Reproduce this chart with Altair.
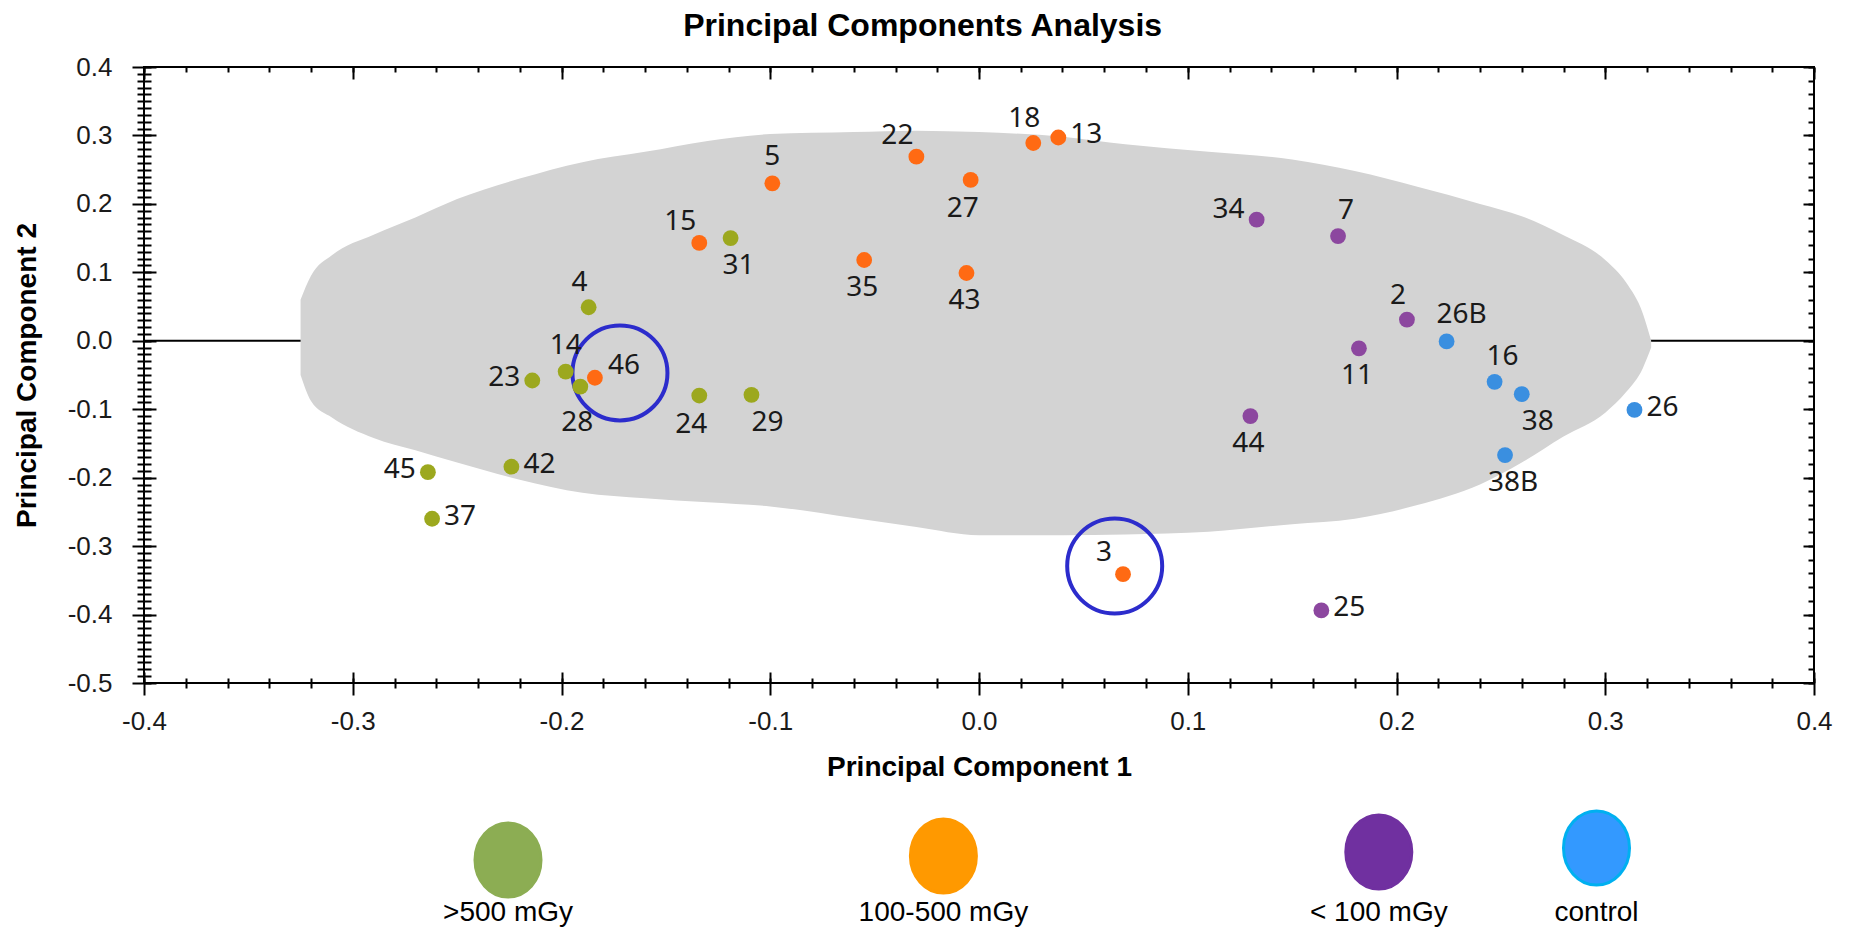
import altair as alt
import pandas as pd

# ---------------- data ----------------
sample_ids = ["31", "4", "14", "28", "23", "24", "29", "42", "45", "37",
              "5", "22", "18", "13", "27", "15", "35", "43", "46", "3",
              "34", "7", "2", "11", "44", "25",
              "26B", "16", "38", "26", "38B"]
pc1 = [-0.119, -0.187, -0.198, -0.191, -0.214, -0.134, -0.109, -0.224, -0.264, -0.262,
       -0.099, -0.030, 0.026, 0.038, -0.004, -0.134, -0.055, -0.006, -0.184, 0.069,
       0.133, 0.172, 0.205, 0.182, 0.130, 0.164,
       0.224, 0.247, 0.260, 0.314, 0.252]
pc2 = [0.150, 0.049, -0.045, -0.067, -0.058, -0.080, -0.079, -0.184, -0.192, -0.260,
       0.230, 0.269, 0.289, 0.297, 0.235, 0.143, 0.118, 0.099, -0.054, -0.341,
       0.177, 0.153, 0.031, -0.011, -0.110, -0.394,
       -0.001, -0.060, -0.078, -0.101, -0.167]
dose_group = [">500 mGy"] * 10 + ["100-500 mGy"] * 10 + ["< 100 mGy"] * 6 + ["control"] * 5
label_side = ["SSE", "NNW", "N", "S2", "W", "SSW", "SE", "E", "W", "E",
              "N", "NW", "NNW", "E", "SSW", "NW", "S", "S", "ENE", "NW",
              "WNW", "NNE", "NNW", "S", "S", "E",
              "NE", "NNE", "SE", "E", "SSE"]

groups = [">500 mGy", "100-500 mGy", "< 100 mGy", "control"]
point_colors = ["#9CA81E", "#FF6A13", "#8C479F", "#3A8FE0"]

# grey cloud outline (upper and lower edge)
blob_x = [-0.325, -0.32, -0.31, -0.29, -0.27, -0.25, -0.22, -0.19, -0.16, -0.13,
          -0.10, -0.06, -0.03, 0.0, 0.04, 0.07, 0.11, 0.15, 0.18, 0.21,
          0.24, 0.26, 0.28, 0.30, 0.31, 0.318, 0.322]
blob_top = [0.06, 0.095, 0.125, 0.155, 0.18, 0.207, 0.237, 0.261, 0.276, 0.292,
            0.302, 0.305, 0.307, 0.305, 0.298, 0.287, 0.276, 0.265, 0.248, 0.225,
            0.200, 0.182, 0.154, 0.118, 0.085, 0.04, 0.0]
blob_bottom = [-0.05, -0.088, -0.112, -0.142, -0.160, -0.178, -0.203, -0.222, -0.230, -0.236,
               -0.242, -0.259, -0.272, -0.284, -0.284, -0.283, -0.279, -0.268, -0.260, -0.240,
               -0.210, -0.178, -0.140, -0.105, -0.075, -0.04, -0.01]

# highlight rings
ring_x = [-0.172, 0.065]
ring_y = [-0.047, -0.329]

# axis tick values
x_major = [-0.4, -0.3, -0.2, -0.1, 0.0, 0.1, 0.2, 0.3, 0.4]
y_major = [-0.5, -0.4, -0.3, -0.2, -0.1, 0.0, 0.1, 0.2, 0.3, 0.4]
x_minor = [round(-0.4 + 0.02 * i, 2) for i in range(41)]
y_minor_left = [round(-0.5 + 0.01 * i, 2) for i in range(91)]
y_minor_right = [round(-0.5 + 0.02 * i, 2) for i in range(46)]

# legend
legend_labels = [">500 mGy", "100-500 mGy", "< 100 mGy", "control"]
legend_fill = ["#8CAD53", "#FF9900", "#7030A0", "#3399FF"]
legend_stroke = ["#8CAD53", "#FF9900", "#7030A0", "#00B0F0"]

# ---------------- frames ----------------
pts = pd.DataFrame({"id": sample_ids, "x": pc1, "y": pc2,
                    "group": dose_group, "side": label_side})
blob = pd.DataFrame({"x": blob_x, "top": blob_top, "bottom": blob_bottom})
rings = pd.DataFrame({"x": ring_x, "y": ring_y})
zero = pd.DataFrame({"y": [0.0]})

W, H = 1670, 616
xs = alt.Scale(domain=[-0.4, 0.4], nice=False, zero=False)
ys = alt.Scale(domain=[-0.5, 0.4], nice=False, zero=False)

MAJ = "abs(datum.value*10 - round(datum.value*10)) < 0.000001"
LBL = "(" + MAJ + ") ? ((datum.value < -0.00001 ? '-' : '') + format(abs(datum.value), '.1f')) : ''"
TICK_FONT = "Liberation Sans"

common = dict(tickColor="black", tickWidth=2, domain=False, grid=False)

ax_out = alt.Axis(orient="bottom", values=x_minor,
                  tickSize={"condition": {"test": MAJ, "value": 12}, "value": 5},
                  labelExpr=LBL, labelFont=TICK_FONT, labelFontSize=26, labelColor="#1a1a1a",
                  labelPadding=13, labelOverlap=False, labelFlush=False,
                  title="Principal Component 1", titleFont="Liberation Sans", titleFontSize=28,
                  titleFontWeight="bold", titleColor="black", titlePadding=19, **common)
ax_in_maj = alt.Axis(orient="bottom", values=x_major, offset=-11, tickSize=11,
                     labels=False, title=None, **common)
ax_in_min = alt.Axis(orient="bottom", values=x_minor, offset=-5, tickSize=5,
                     labels=False, title=None, **common)
ax_top_maj = alt.Axis(orient="top", values=x_major, offset=-12, tickSize=12,
                      labels=False, title=None, **common)
ax_top_min = alt.Axis(orient="top", values=x_minor, offset=-5, tickSize=5,
                      labels=False, title=None, **common)

ay_out = alt.Axis(orient="left", values=y_minor_left,
                  tickSize={"condition": {"test": MAJ, "value": 12}, "value": 7},
                  labelExpr=LBL, labelFont=TICK_FONT, labelFontSize=26, labelColor="#1a1a1a",
                  labelPadding=20, labelOverlap=False, labelFlush=False,
                  title="Principal Component 2", titleFont="Liberation Sans", titleFontSize=28,
                  titleFontWeight="bold", titleColor="black", titlePadding=26, **common)
ay_in_maj = alt.Axis(orient="left", values=y_major, offset=-12, tickSize=12,
                     labels=False, title=None, **common)
ay_in_min = alt.Axis(orient="left", values=y_minor_left, offset=-7, tickSize=7,
                     labels=False, title=None, **common)
ay_r_maj = alt.Axis(orient="right", values=y_major, offset=-11, tickSize=11,
                    labels=False, title=None, **common)
ay_r_min = alt.Axis(orient="right", values=y_minor_right, offset=-6, tickSize=6,
                    labels=False, title=None, **common)

x_axes = [ax_out, ax_in_maj, ax_in_min, ax_top_maj, ax_top_min]
y_axes = [ay_out, ay_in_maj, ay_in_min, ay_r_maj, ay_r_min]

zero_rule = alt.Chart(zero).mark_rule(color="black", strokeWidth=2).encode(
    y=alt.Y("y:Q", scale=ys, axis=None))

cloud = alt.Chart(blob).mark_area(color="#D3D3D3", opacity=1, interpolate="monotone").encode(
    x=alt.X("x:Q", scale=xs, axis=x_axes[0]),
    y=alt.Y("top:Q", scale=ys, axis=y_axes[0]),
    y2="bottom:Q")

ring_layer = alt.Chart(rings).mark_point(shape="circle", filled=False, size=9025,
                                         stroke="#2C2CCC", strokeWidth=4, opacity=1).encode(
    x=alt.X("x:Q", scale=xs, axis=x_axes[1]),
    y=alt.Y("y:Q", scale=ys, axis=y_axes[1]))

dots = alt.Chart(pts).mark_circle(size=250, opacity=1).encode(
    x=alt.X("x:Q", scale=xs, axis=x_axes[2]),
    y=alt.Y("y:Q", scale=ys, axis=y_axes[2]),
    color=alt.Color("group:N", scale=alt.Scale(domain=groups, range=point_colors), legend=None))

SIDE = {
    "N": dict(dx=0, dy=-26, align="center"),
    "NNW": dict(dx=-9, dy=-24, align="center"),
    "NNE": dict(dx=8, dy=-25, align="center"),
    "NE": dict(dx=15, dy=-26, align="center"),
    "NW": dict(dx=-19, dy=-21, align="center"),
    "S": dict(dx=-2, dy=28, align="center"),
    "S2": dict(dx=-3, dy=36, align="center"),
    "SSW": dict(dx=-8, dy=29, align="center"),
    "SSE": dict(dx=8, dy=28, align="center"),
    "SE": dict(dx=16, dy=28, align="center"),
    "E": dict(dx=12, dy=-2, align="left"),
    "ENE": dict(dx=13, dy=-12, align="left"),
    "W": dict(dx=-12, dy=-2, align="right"),
    "WNW": dict(dx=-12, dy=-10, align="right"),
}

text_layers = []
for i, (code, st) in enumerate(SIDE.items()):
    k = 3 + i
    xa = x_axes[k] if k < len(x_axes) else None
    ya = y_axes[k] if k < len(y_axes) else None
    t = alt.Chart(pts).transform_filter(alt.datum.side == code).mark_text(
        font="Noto Sans", fontSize=28, color="#1a1a1a", baseline="middle", **st).encode(
        x=alt.X("x:Q", scale=xs, axis=xa),
        y=alt.Y("y:Q", scale=ys, axis=ya),
        text="id:N")
    text_layers.append(t)

main = alt.layer(zero_rule, cloud, ring_layer, dots, *text_layers).resolve_axis(
    x="independent", y="independent").properties(
    width=W, height=H,
    title=alt.Title("Principal Components Analysis", font="Liberation Sans", fontSize=32,
                    fontWeight="bold", color="black", anchor="middle", baseline="bottom",
                    frame="bounds", offset=-21),
    view=alt.ViewBackground(stroke="black", strokeWidth=2))

# ---------------- legend strip ----------------
leg = pd.DataFrame({"g": legend_labels})
slot_domain = [legend_labels[0], " ", legend_labels[1], "  ", legend_labels[2], legend_labels[3]]
lx = alt.Scale(type="point", domain=slot_domain, range=[364, 1452.5], padding=0)
ly = alt.Scale(type="point", domain=legend_labels, range=[49, 37], padding=0)
ELLIPSE = ("M -0.892 0 C -0.892 -0.552 -0.493 -1 0 -1 C 0.493 -1 0.892 -0.552 0.892 0 "
           "C 0.892 0.552 0.493 1 0 1 C -0.493 1 -0.892 0.552 -0.892 0 Z")

leg_sym = alt.Chart(leg).mark_point(shape=ELLIPSE, filled=True, size=5476, strokeWidth=3,
                                    opacity=1).encode(
    x=alt.X("g:N", scale=lx, axis=None, sort=None),
    y=alt.Y("g:N", scale=ly, axis=None, sort=None),
    fill=alt.Fill("g:N", scale=alt.Scale(domain=legend_labels, range=legend_fill), legend=None),
    stroke=alt.Stroke("g:N", scale=alt.Scale(domain=legend_labels, range=legend_stroke), legend=None))
leg_txt = alt.Chart(leg).mark_text(font="Liberation Sans", fontSize=28, color="black",
                                   baseline="middle", align="center", dy=62).encode(
    x=alt.X("g:N", scale=lx, axis=None, sort=None),
    text="g:N")
legend = alt.layer(leg_sym, leg_txt).properties(
    width=W, height=80, view=alt.ViewBackground(stroke="transparent"))

chart = alt.vconcat(main, legend, spacing=128, bounds="flush").properties(
    padding={"left": 4, "top": 1, "right": 0, "bottom": 0},
    background="white")

chart.save("out.html", embed_options={"renderer": "svg", "actions": False})
